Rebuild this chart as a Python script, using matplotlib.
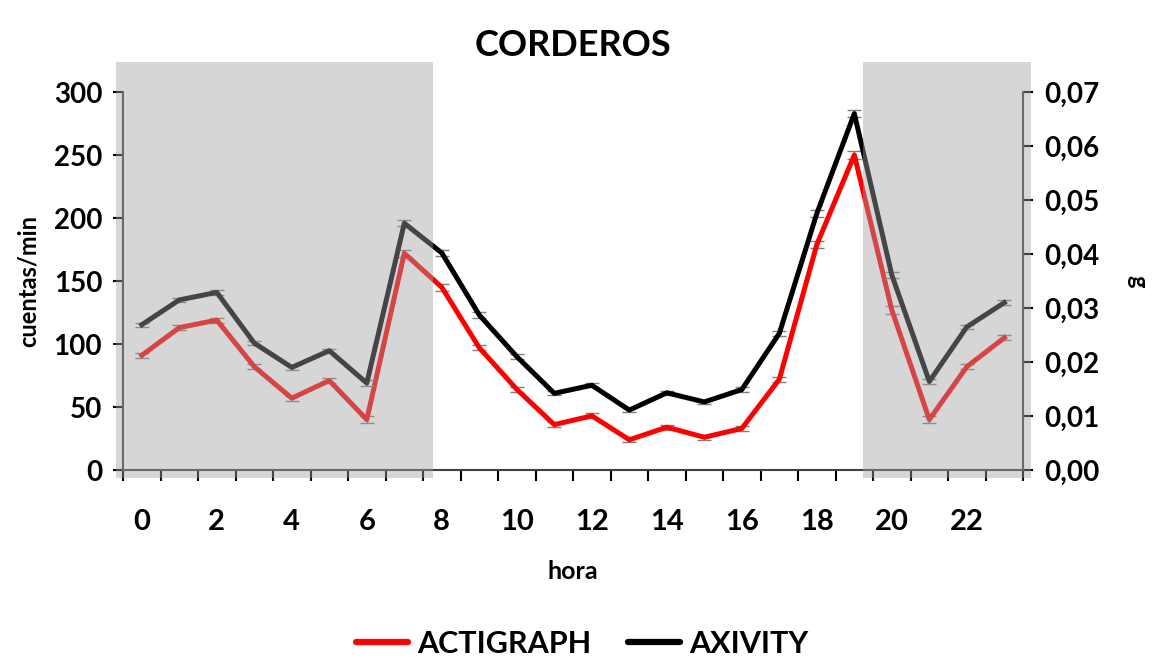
import matplotlib.pyplot as plt
import numpy as np
from matplotlib.patches import Rectangle
from matplotlib.lines import Line2D

plt.rcParams['font.family'] = ['Lato', 'DejaVu Sans']
plt.rcParams['font.weight'] = 'bold'

horas = np.arange(24)
actigraph = [91, 113, 119, 82, 57, 71, 40, 172, 145, 97, 64, 36, 43, 24, 34, 26,
             33, 72, 179, 250, 127, 40, 82, 105]
actigraph_err = [2, 2, 2, 2, 2, 2, 3, 3, 3, 2, 2, 2, 2, 2, 2, 2, 2, 2, 3, 3, 3, 3, 2, 2]
axivity = [0.0269, 0.0315, 0.0329, 0.0235, 0.0190, 0.0221, 0.0161, 0.0457, 0.0402,
           0.0287, 0.0210, 0.0142, 0.0157, 0.0111, 0.0143, 0.0126, 0.0149, 0.0253,
           0.0475, 0.0660, 0.0361, 0.0164, 0.0265, 0.0310]
axivity_err = [0.0004, 0.0004, 0.0004, 0.0004, 0.0004, 0.0004, 0.0005, 0.0006, 0.0005,
               0.0005, 0.0004, 0.0004, 0.0004, 0.0004, 0.0004, 0.0004, 0.0004, 0.0005,
               0.0006, 0.0006, 0.0005, 0.0005, 0.0004, 0.0004]
xlabels = [str(h) for h in range(0, 24, 2)]
noche = [(-0.69, 7.77), (19.23, 23.71)]

fig = plt.figure(figsize=(11.52, 6.62), dpi=100)
ax = fig.add_axes([0.1068, 0.290, 0.7813, 0.571])
ax2 = ax.twinx()

ax.errorbar(horas, actigraph, yerr=actigraph_err, color='#ff0000', lw=3.6,
            ecolor='#7f7f7f', elinewidth=1, capsize=5, capthick=1, zorder=3)
ax2.errorbar(horas, axivity, yerr=axivity_err, color='black', lw=3.6,
             ecolor='#7f7f7f', elinewidth=1, capsize=5, capthick=1, zorder=3)

ax.set_xlim(-0.5, 23.5)
ax.set_ylim(0, 300)
ax2.set_ylim(0, 0.07)

ax.set_xticks(range(0, 24, 2))
ax.set_xticklabels(xlabels, fontsize=21, fontweight='bold')
ax.set_xticks(np.arange(-0.5, 24, 1), minor=True)
ax.tick_params(axis='x', which='major', length=0, pad=28)
ax.tick_params(axis='x', which='minor', length=8, width=1.5, color='black')

ax.set_yticks(range(0, 301, 50))
ax.set_yticklabels([str(v) for v in range(0, 301, 50)], fontsize=20, fontweight='bold')
ax.tick_params(axis='y', length=7, width=1.5, pad=8)
gticks = np.arange(0, 0.071, 0.01)
ax2.set_yticks(gticks)
ax2.set_yticklabels([('%.2f' % v).replace('.', ',') for v in gticks],
                    fontsize=20, fontweight='bold')
ax2.tick_params(axis='y', length=7, width=1.5, pad=8)

for a in (ax, ax2):
    a.spines['top'].set_visible(False)
    for s in ('left', 'right', 'bottom'):
        a.spines[s].set_color('#404040')
        a.spines[s].set_linewidth(1.5)
ax.spines['right'].set_visible(False)
ax2.spines['left'].set_visible(False)
ax2.spines['bottom'].set_visible(False)

ax.set_ylabel('cuentas/min', fontsize=17, fontweight='bold', labelpad=10)
ax.set_xlabel('hora', fontsize=18, fontweight='bold', labelpad=18)
ax2.set_ylabel('g', fontsize=17, fontweight='bold', rotation=270, labelpad=36)
ax.set_title('CORDEROS', fontsize=26, fontweight='bold', pad=26)

for x0, x1 in noche:
    ax2.add_patch(Rectangle((x0, -6.3), x1 - x0, 330, transform=ax.transData,
                            facecolor='#a1a1a1', alpha=0.435, edgecolor='none',
                            clip_on=False, zorder=10))

handles = [Line2D([], [], color='#ff0000', lw=4.5, solid_capstyle='round'),
           Line2D([], [], color='black', lw=4.5, solid_capstyle='round')]
fig.legend(handles, ['ACTIGRAPH', 'AXIVITY'], loc='lower center',
           bbox_to_anchor=(0.505, -0.035), ncol=2, frameon=False,
           prop={'size': 22, 'weight': 'bold'}, handlelength=1.7,
           columnspacing=1.2, handletextpad=0.3)

plt.savefig('out.png', dpi=100)
